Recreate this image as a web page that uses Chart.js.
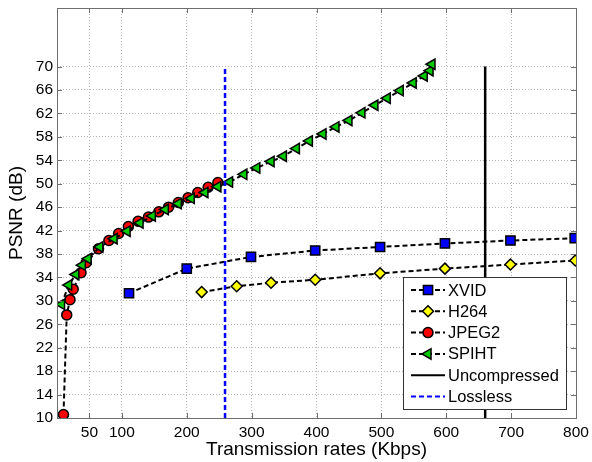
<!DOCTYPE html>
<html>
<head>
<meta charset="utf-8">
<script src="https://cdn.jsdelivr.net/npm/chart.js@4/dist/chart.umd.min.js"></script>
<style>
  html, body { margin: 0; padding: 0; background: #fff; }
</style>
</head>
<body>
<canvas id="c" width="592" height="462"></canvas>
<script>
const xTicks = [50, 100, 200, 300, 400, 500, 600, 700, 800];
const yTicks = [10, 14, 18, 22, 26, 30, 34, 38, 42, 46, 50, 54, 58, 62, 66, 70];

const xvidRate = [111, 200, 299, 398, 498, 598, 699, 798];
const xvidPsnr = [31.3, 35.5, 37.5, 38.6, 39.2, 39.8, 40.3, 40.7];

const h264Rate = [223, 277, 330, 398, 498, 598, 699, 799];
const h264Psnr = [31.5, 32.5, 33.1, 33.6, 34.7, 35.5, 36.2, 36.9];

const jpeg2Rate = [10, 15, 20, 25, 37, 45, 64, 80, 95, 110, 125, 141, 157, 172, 187, 202, 217, 233, 248];
const jpeg2Psnr = [10.6, 27.6, 30.2, 32.0, 34.8, 36.5, 38.9, 40.3, 41.5, 42.7, 43.6, 44.3, 45.2, 46.0, 46.8, 47.6, 48.5, 49.4, 50.2];

const spihtRate = [7, 18, 29, 39, 48, 66, 88, 108, 128, 147, 167, 187, 207, 228, 248, 266, 288, 308, 330, 349, 369, 389, 410, 430, 450, 470, 490, 509, 529, 549, 566, 575, 578];
const spihtPsnr = [29.4, 32.7, 34.5, 36.1, 37.2, 39.2, 40.6, 41.9, 43.3, 44.5, 45.6, 46.6, 47.5, 48.5, 49.5, 50.3, 51.6, 52.7, 53.8, 54.7, 56.0, 57.3, 58.5, 59.7, 60.8, 62.1, 63.4, 64.6, 65.9, 67.2, 68.4, 69.3, 70.4];

const uncompressedRate = 660;
const losslessRate = 259;
const limitPsnr = [10, 70];

const pts = (xs, ys) => xs.map((x, i) => ({x, y: ys[i]}));
const vline = (x) => limitPsnr.map(y => ({x, y}));

const FONT = "'Liberation Sans', Arial, sans-serif";
const dash = [5, 3];

const series = [
  {label: 'XVID', data: pts(xvidRate, xvidPsnr), pointStyle: 'rect', pointRadius: 6.5, pointBackgroundColor: '#0000ff', order: 5},
  {label: 'H264', data: pts(h264Rate, h264Psnr), pointStyle: 'rectRot', pointRadius: 5.5, pointBackgroundColor: '#ffff00', order: 4},
  {label: 'JPEG2', data: pts(jpeg2Rate, jpeg2Psnr), pointStyle: 'circle', pointRadius: 5, pointBackgroundColor: '#ff0000', order: 3},
  {label: 'SPIHT', data: pts(spihtRate, spihtPsnr), pointStyle: 'triangle', pointRotation: -90, pointRadius: 6, pointBackgroundColor: '#00cc00', order: 2},
].map(d => Object.assign({
  showLine: true,
  borderColor: '#000',
  borderWidth: 2,
  borderDash: dash,
  pointBorderColor: '#000',
  pointBorderWidth: 1.5,
}, d));

const limits = [
  {label: 'Uncompressed', data: vline(uncompressedRate), showLine: true, borderColor: '#000', borderWidth: 2.5, pointRadius: 0, order: 1},
  {label: 'Lossless', data: vline(losslessRate), showLine: true, borderColor: '#0000ff', borderWidth: 2.5, borderDash: dash, pointRadius: 0, order: 0},
];

function marker(ctx, style, x, y, r) {
  ctx.beginPath();
  if (style === 'rect') {
    const s = r * Math.SQRT1_2;
    ctx.rect(x - s, y - s, 2 * s, 2 * s);
  } else if (style === 'rectRot') {
    ctx.moveTo(x, y - r); ctx.lineTo(x + r, y); ctx.lineTo(x, y + r); ctx.lineTo(x - r, y); ctx.closePath();
  } else if (style === 'circle') {
    ctx.arc(x, y, r, 0, Math.PI * 2);
  } else {
    ctx.moveTo(x - r, y);
    ctx.lineTo(x + r / 2, y - r * Math.sqrt(3) / 2);
    ctx.lineTo(x + r / 2, y + r * Math.sqrt(3) / 2);
    ctx.closePath();
  }
}

const matlabAxes = {
  id: 'matlabAxes',
  afterDraw(chart) {
    const {ctx, chartArea: a, scales: {x, y}} = chart;
    ctx.save();
    ctx.strokeStyle = '#6e6e6e';
    ctx.lineWidth = 1;
    ctx.setLineDash([]);
    ctx.strokeRect(Math.round(a.left) + 0.5, Math.round(a.top) + 0.5, Math.round(a.right - a.left), Math.round(a.bottom - a.top));
    ctx.beginPath();
    xTicks.forEach(v => {
      const px = Math.round(x.getPixelForValue(v)) + 0.5;
      ctx.moveTo(px, a.bottom); ctx.lineTo(px, a.bottom - 5);
      ctx.moveTo(px, a.top); ctx.lineTo(px, a.top + 5);
    });
    yTicks.forEach(v => {
      const py = Math.round(y.getPixelForValue(v)) + 0.5;
      ctx.moveTo(a.left, py); ctx.lineTo(a.left + 5, py);
      ctx.moveTo(a.right, py); ctx.lineTo(a.right - 5, py);
    });
    ctx.stroke();

    // legend box
    const bx = 403.5, by = 277.5, bw = 163, bh = 132;
    ctx.fillStyle = '#fff';
    ctx.fillRect(bx, by, bw, bh);
    ctx.strokeStyle = '#333';
    ctx.strokeRect(bx, by, bw, bh);
    const items = chart.data.datasets;
    ctx.font = '16.5px ' + FONT;
    ctx.textBaseline = 'middle';
    items.forEach((d, i) => {
      const ly = 290 + i * 21.3;
      ctx.strokeStyle = d.borderColor;
      ctx.lineWidth = 2;
      ctx.setLineDash(d.borderDash || []);
      ctx.beginPath();
      ctx.moveTo(411, ly); ctx.lineTo(445, ly);
      ctx.stroke();
      ctx.setLineDash([]);
      if (d.pointRadius) {
        marker(ctx, d.pointStyle, 428, ly, d.pointRadius);
        ctx.fillStyle = d.pointBackgroundColor;
        ctx.fill();
        ctx.lineWidth = 1.5;
        ctx.strokeStyle = '#000';
        ctx.stroke();
      }
      ctx.fillStyle = '#000';
      ctx.fillText(d.label, 448, ly + 1);
    });
    ctx.restore();
  }
};

const noPad = s => { s.paddingTop = 0; s.paddingBottom = 0; s.paddingLeft = 0; s.paddingRight = 0; };

new Chart(document.getElementById('c'), {
  type: 'scatter',
  data: {datasets: [...series, ...limits]},
  plugins: [matlabAxes],
  options: {
    responsive: false,
    animation: false,
    layout: {padding: {top: 5, right: 16, left: 0, bottom: 0}},
    plugins: {legend: false, tooltip: {enabled: false}},
    scales: {
      x: {
        type: 'linear',
        min: 0,
        max: 800,
        afterBuildTicks: s => { s.ticks = xTicks.map(value => ({value})); },
        afterFit: s => { s.height = 44; noPad(s); },
        grid: {color: '#b4b4b4', drawTicks: false},
        border: {display: false, dash: [1, 2]},
        ticks: {color: '#000', font: {family: FONT, size: 15.5}, padding: 5, maxRotation: 0, autoSkip: false},
        title: {display: true, text: 'Transmission rates (Kbps)', color: '#000', font: {family: FONT, size: 19}, padding: {top: 0, bottom: 1}},
      },
      y: {
        type: 'linear',
        min: 10,
        max: 80,
        afterBuildTicks: s => { s.ticks = yTicks.map(value => ({value})); },
        afterFit: s => { s.width = 57; noPad(s); },
        grid: {color: '#b4b4b4', drawTicks: false},
        border: {display: false, dash: [1, 2]},
        ticks: {color: '#000', font: {family: FONT, size: 15.5}, padding: 4, autoSkip: false},
        title: {display: true, text: 'PSNR (dB)', color: '#000', font: {family: FONT, size: 19}, padding: {top: 5, bottom: 0}},
      }
    }
  }
});
</script>
</body>
</html>
